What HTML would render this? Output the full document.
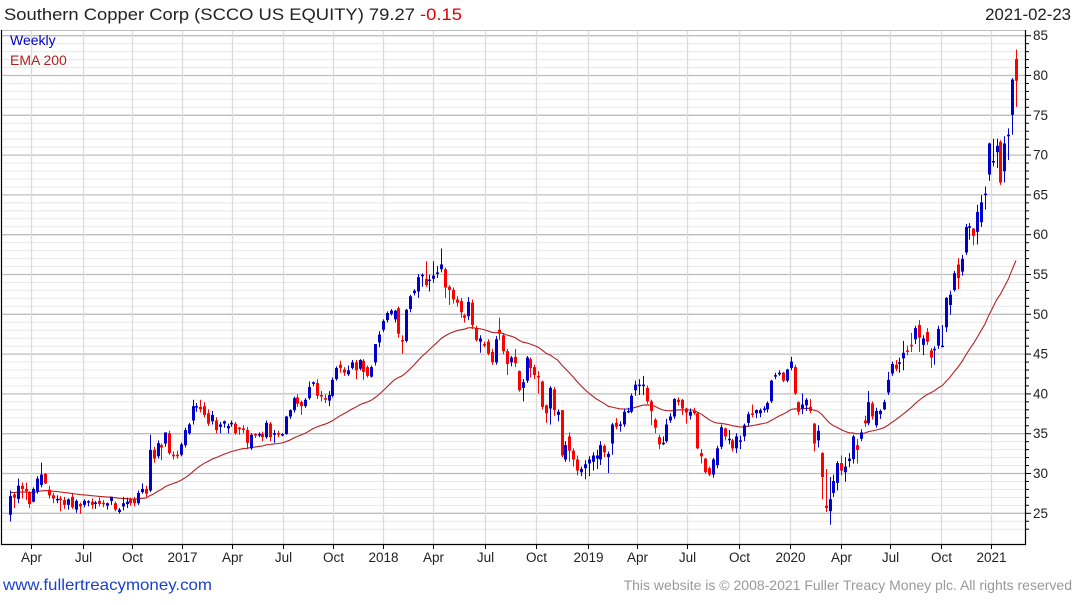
<!DOCTYPE html>
<html><head><meta charset="utf-8"><style>
html,body{margin:0;padding:0;background:#fff;}
body{width:1075px;height:600px;overflow:hidden;font-family:"Liberation Sans",sans-serif;}
svg text{font-family:"Liberation Sans",sans-serif;}
</style></head><body>
<svg id="chart" width="1075" height="600" xmlns="http://www.w3.org/2000/svg">
<text x="4" y="20" font-size="17" fill="#222" textLength="458" lengthAdjust="spacingAndGlyphs">Southern Copper Corp (SCCO US EQUITY) 79.27 <tspan fill="#e00000">-0.15</tspan></text>
<text x="1071" y="20" font-size="16.8" fill="#222" text-anchor="end">2021-02-23</text>
<g id="grid"></g>
<g id="ema"></g>
<g id="candles"></g>
<g id="axes"></g>
<text x="10" y="45" font-size="14" fill="#0000cc">Weekly</text>
<text x="10" y="65" font-size="14" fill="#b22222">EMA 200</text>
<text x="3" y="590" font-size="16" fill="#1a3fcc" textLength="209" lengthAdjust="spacingAndGlyphs">www.fullertreacymoney.com</text>
<text x="1072" y="590" font-size="14" fill="#999" text-anchor="end">This website is © 2008-2021 Fuller Treacy Money plc. All rights reserved</text>
</svg>
<script>
const opens=[24.75,27.3,26.75,28.4,28.0,27.6,26.4,27.7,28.5,29.9,27.9,27.2,26.6,26.8,26.6,26.0,27.0,25.4,26.1,26.0,26.3,26.4,26.2,26.5,26.25,25.9,26.5,26.2,25.1,25.8,26.1,26.7,26.8,26.2,27.6,28.0,27.8,32.9,32.1,33.5,33.7,35.0,32.3,32.3,32.3,
33.5,35.0,36.6,38.3,38.3,38.4,37.5,36.5,36.6,35.8,36.2,35.6,36.2,36.2,35.7,35.6,35.4,33.1,34.9,34.7,34.9,34.5,36.2,34.8,35.0,34.8,34.9,37.1,37.9,39.5,38.9,38.4,39.4,41.2,41.3,39.8,39.4,39.1,39.7,41.8,43.6,43.0,42.4,43.2,43.9,43.1,44.1,43.3,42.1,43.9,46.4,48.0,49.2,50.0,49.3,50.7,46.7,46.6,50.6,52.6,52.8,54.9,
54.4,54.3,54.4,55.0,55.6,55.6,53.4,53.0,51.8,51.6,49.8,49.7,51.4,48.2,46.5,46.2,46.5,45.2,43.9,48.0,47.3,45.3,43.9,44.6,42.8,40.7,41.6,44.3,43.3,42.2,41.5,38.5,38.1,40.5,37.3,37.9,31.7,34.6,32.8,31.7,30.1,30.6,31.2,31.4,31.8,31.7,33.4,32.0,33.7,36.3,36.1,36.1,37.8,37.7,40.4,41.0,41.1,40.7,39.0,36.7,34.5,33.8,34.0,
36.6,37.1,39.2,39.2,38.1,37.2,37.8,37.5,32.5,31.8,30.6,29.8,31.0,33.3,35.6,34.2,34.1,33.1,34.1,34.6,36.3,37.5,37.5,37.5,38.1,38.0,39.0,42.3,42.4,42.6,41.6,43.2,43.3,38.9,38.1,38.5,38.3,36.2,34.1,32.5,25.9,25.2,27.5,28.75,31.25,30.1,31.5,31.75,33.5,34.3,36.6,36.25,38.75,36.0,37.4,38.0,40.1,42.5,43.6,
43.9,44.4,45.4,46.1,46.8,48.6,46.1,47.7,45.4,45.6,46.0,46.0,48.3,51.1,53.0,56.2,55.3,57.7,60.8,60.7,60.3,61.5,65.1,67.5,69.2,70.3,71.6,67.9,72.3,75.0,82.0];
const closes=[27.1,26.9,28.4,28.0,27.7,26.1,28.0,29.3,29.8,28.7,27.2,26.8,26.75,26.6,26.0,26.7,25.7,26.5,25.8,26.5,26.45,26.0,26.3,26.1,26.15,26.2,27.0,25.4,25.4,26.2,26.4,26.2,26.2,27.5,28.0,27.4,32.9,31.8,33.75,33.2,35.1,32.5,32.1,32.1,33.6,
35.4,36.1,38.4,38.4,38.0,37.3,36.2,37.3,35.4,36.1,36.5,35.9,36.3,35.0,35.6,35.4,33.8,34.8,34.7,34.9,34.5,36.3,34.5,35.0,34.8,34.9,37.1,37.9,39.4,38.7,38.4,39.2,40.8,41.4,39.7,39.6,39.2,39.8,41.7,43.2,43.2,42.6,42.9,43.9,42.9,44.2,42.7,42.2,43.3,46.2,47.4,49.1,50.1,50.4,50.4,47.5,46.5,50.5,52.2,52.9,54.6,54.9,
53.6,54.3,54.8,55.2,56.2,53.3,53.0,51.8,51.4,50.2,49.5,51.5,48.6,46.7,46.9,46.0,45.0,43.9,46.8,47.5,45.3,43.7,44.5,43.8,40.4,41.4,44.5,43.2,42.3,42.0,38.3,37.5,40.7,37.9,37.7,32.2,33.5,32.8,31.7,30.3,30.5,31.1,31.7,32.2,32.2,33.5,32.6,32.4,36.1,35.8,36.1,37.7,37.8,39.7,41.1,41.1,41.1,39.0,37.8,35.7,33.6,33.8,36.1,
37.1,39.3,38.9,38.1,37.6,37.7,37.5,33.1,32.1,30.1,29.8,31.7,33.1,35.75,34.6,34.3,33.1,34.6,34.1,36.0,37.4,37.3,37.9,37.9,38.1,38.8,41.6,42.3,42.6,41.6,43.0,44.0,40.0,37.7,38.6,39.2,37.8,33.7,35.3,29.5,25.6,26.7,29.0,31.25,30.3,30.8,31.8,34.6,32.9,35.1,36.25,38.9,37.1,37.8,37.8,38.9,41.7,43.7,43.1,
43.9,45.1,45.3,46.0,48.2,47.0,46.9,46.5,44.5,45.6,48.1,46.0,52.0,52.4,55.1,54.5,56.9,60.9,61.0,59.8,62.8,64.0,65.1,71.4,69.2,71.1,66.5,71.4,72.5,79.42,79.27];
const highs=[27.8,27.5,29.3,28.8,28.8,27.7,28.2,29.6,31.3,30.0,28.4,27.5,27.2,27.1,27.0,26.8,27.5,26.7,26.3,26.7,26.6,26.8,26.5,26.9,26.6,26.3,27.0,26.4,25.6,27.0,26.9,26.9,27.0,27.8,28.7,28.4,34.8,33.3,34.1,33.7,35.1,35.3,32.7,32.8,33.8,
35.7,36.3,39.2,38.8,39.2,38.9,38.0,37.8,37.0,36.4,36.6,36.2,36.6,36.4,35.8,36.0,35.8,35.0,35.0,35.1,35.2,36.6,36.4,35.4,35.3,35.0,37.2,38.0,39.6,39.9,39.1,39.4,41.5,41.5,41.8,40.3,39.9,40.3,42.0,43.4,44.1,43.3,43.5,44.2,44.2,44.3,44.3,43.5,43.5,46.2,47.8,49.3,50.3,50.6,50.5,50.9,47.3,50.6,52.4,53.1,55.0,55.1,
56.6,54.9,56.6,56.0,58.2,55.8,53.6,53.3,52.2,52.0,50.0,52.1,51.8,48.5,47.3,46.5,46.8,45.6,47.2,49.5,47.6,45.6,44.7,45.6,42.9,41.8,44.7,44.5,43.6,42.8,41.6,38.6,40.9,40.8,38.0,37.9,34.0,35.1,33.1,32.2,30.8,31.6,32.1,32.6,32.9,34.0,33.6,32.7,36.3,36.9,36.5,38.1,38.2,40.0,41.6,41.8,42.2,41.0,39.2,36.9,34.8,34.6,36.8,
37.5,39.4,39.5,39.3,38.2,38.1,38.2,37.6,33.0,31.9,30.8,31.9,33.4,36.1,35.7,35.4,34.3,35.0,34.7,36.2,37.7,38.6,38.0,38.1,38.4,39.0,41.7,42.6,42.9,42.7,43.1,44.6,43.6,39.0,40.0,39.4,39.3,36.3,36.0,32.6,30.5,29.5,29.8,31.5,32.2,32.0,32.5,34.8,34.3,35.5,37.2,40.3,39.0,38.2,38.0,39.2,42.7,44.0,44.2,
44.5,46.6,46.0,47.6,48.5,49.2,47.3,48.2,45.7,45.9,48.5,48.6,52.1,52.9,55.4,57.0,57.4,61.3,61.4,60.8,63.7,64.9,66.0,71.5,72.0,72.0,71.8,72.3,73.3,79.6,83.2];
const lows=[23.9,25.6,26.2,26.8,26.6,25.6,26.3,27.4,28.2,28.6,26.8,26.2,26.2,25.2,25.5,25.4,25.5,25.0,24.9,25.7,25.8,25.5,25.5,25.8,25.7,25.4,26.0,25.2,24.9,25.3,25.6,25.9,25.8,26.0,27.4,27.0,27.6,31.3,31.8,31.6,33.3,32.3,31.7,31.8,32.1,
33.2,34.8,36.1,37.7,37.6,37.0,35.9,36.1,35.0,35.0,35.7,35.0,35.8,34.8,34.8,35.0,33.0,32.9,34.4,34.5,34.0,34.3,34.0,33.8,34.5,34.6,34.8,36.8,37.6,38.3,37.3,38.2,39.2,40.9,39.3,39.0,38.8,38.4,39.5,41.6,42.6,42.2,42.2,43.0,41.8,42.9,41.7,42.0,42.0,43.5,45.8,47.7,48.9,49.8,48.9,47.0,45.0,46.4,50.2,52.3,52.0,53.4,
53.4,52.8,53.9,54.5,55.2,52.0,51.1,51.3,50.9,49.5,48.9,49.2,48.1,46.5,45.1,45.8,44.8,43.6,43.6,46.7,44.9,42.3,43.4,43.3,40.2,39.0,41.3,42.0,41.8,40.0,38.0,36.3,36.1,37.2,36.5,32.0,31.4,31.4,30.8,29.7,29.6,29.2,29.6,30.3,30.5,31.0,32.0,30.0,32.3,35.5,35.2,35.8,37.5,37.5,39.7,39.8,39.8,38.7,36.0,35.0,33.0,33.5,33.8,
36.3,36.8,38.5,37.3,36.2,36.7,37.3,33.0,31.2,29.9,29.6,29.4,30.6,33.0,34.1,33.6,32.7,32.5,33.0,34.0,35.9,37.0,36.9,37.0,37.6,37.6,38.8,41.8,42.2,41.4,41.4,42.9,39.8,37.3,37.4,37.8,37.5,32.7,33.2,26.7,25.1,23.5,27.0,27.8,29.7,28.9,30.7,31.2,31.2,34.0,35.8,36.0,36.7,35.7,36.8,37.9,39.8,42.2,42.8,
42.6,42.9,44.8,45.2,46.2,45.2,44.8,46.1,43.2,43.6,45.6,45.8,47.7,49.9,52.8,53.1,54.8,57.4,59.3,58.6,58.7,60.9,63.1,66.7,68.5,68.3,66.2,66.5,69.3,72.5,76.0];
const yTicks=[25,30,35,40,45,50,55,60,65,70,75,80,85];
const xTickLabels=["Apr","Jul","Oct","2017","Apr","Jul","Oct","2018","Apr","Jul","Oct","2019","Apr","Jul","Oct","2020","Apr","Jul","Oct","2021"];
const xTickWeeks=[5.4,18.8,31.4,44.3,57.2,70.4,83.2,96.1,109,122.2,135.3,148.7,161.3,174.2,187.6,200.8,213.9,226.5,239.7,252.6];
const emaSeed=27.6;

const NS='http://www.w3.org/2000/svg';
const L=1,R=1025,T=30,B=544;
function y(v){return 75+(80-v)*7.96;}
const n=closes.length;
function x(i){return 10+i*(1006/(n-1));}
function mk(tag,attrs,parent){const e=document.createElementNS(NS,tag);for(const k in attrs)e.setAttribute(k,attrs[k]);parent.appendChild(e);return e;}
const grid=document.getElementById('grid'),axes=document.getElementById('axes'),cg=document.getElementById('candles'),eg=document.getElementById('ema');

for(let v=23;v<=85;v++){
  const major=v%5===0;
  const gl=mk('line',{x1:L,x2:R,y1:y(v)+0.5,y2:y(v)+0.5,stroke:major?'#bdbdbd':'#e8e8e8','stroke-width':major?1.3:1},grid);
  
  
  const tk=mk('line',{x1:R,x2:R+(major?6:4),y1:y(v)+0.5,y2:y(v)+0.5,stroke:'#000'},axes);
  
  
}
yTicks.forEach(v=>{
  const t=mk('text',{x:R+8,y:y(v)+5,'font-size':13.5,fill:'#222'},axes);
  t.textContent=v;
  
  
});
xTickWeeks.forEach((w,k)=>{
  const xx=Math.round(x(w))+0.5;
  const gl=mk('line',{x1:xx,x2:xx,y1:T,y2:B,stroke:'#dcdcdc','stroke-width':1.3},grid);
  
  
  const tk=mk('line',{x1:xx,x2:xx,y1:B,y2:B+5,stroke:'#000'},axes);
  
  
  const t=mk('text',{x:xx,y:B+18,'font-size':13.5,fill:'#222','text-anchor':'middle'},axes);
  t.textContent=xTickLabels[k];
  
  
});
const frame=mk('path',{d:`M${L+0.5},${T} V${B+0.5} H${R+0.5} V${T}`,fill:'none',stroke:'#000','stroke-width':1.2},axes);


const topLine=mk('line',{x1:L,x2:R,y1:T+0.5,y2:T+0.5,stroke:'#bdbdbd'},grid);



let e=emaSeed;const a=2/41;let d='';
for(let i=0;i<n;i++){e=e+a*(closes[i]-e);d+=(i?'L':'M')+x(i).toFixed(1)+','+y(e).toFixed(1);}
const ep=mk('path',{d:d,fill:'none',stroke:'#b22222','stroke-width':1.1},eg);



for(let i=0;i<n;i++){
  const up=closes[i]>=opens[i];
  const col=up?'#0000cc':'#ff0000';
  const cx=Math.round(x(i));
  const g=mk('g',{},cg);
  
  
  mk('line',{x1:cx+0.5,x2:cx+0.5,y1:y(highs[i]),y2:y(lows[i]),stroke:col,'stroke-width':1},g);
  const top=y(Math.max(opens[i],closes[i])),bot=y(Math.min(opens[i],closes[i]));
  mk('rect',{x:cx-1,y:top,width:3,height:Math.max(1.5,bot-top),fill:col},g);
}
</script>
</body></html>
